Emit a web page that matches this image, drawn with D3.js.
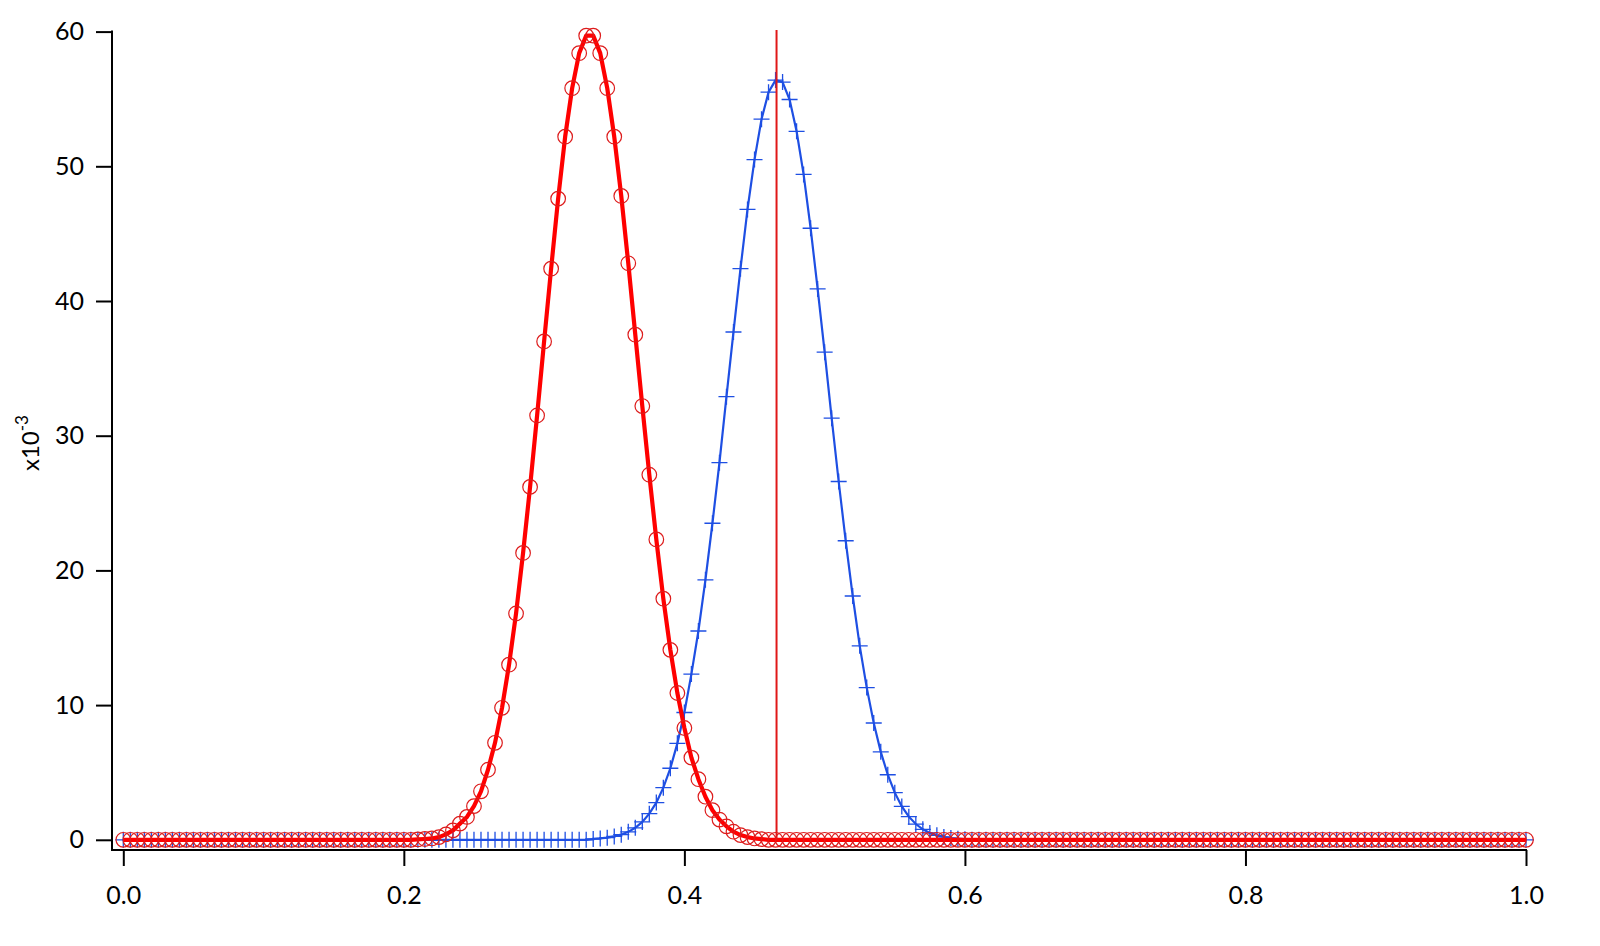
<!DOCTYPE html>
<html>
<head>
<meta charset="utf-8">
<script src="https://cdn.jsdelivr.net/npm/d3@7"></script>
<style>
  html, body { margin: 0; padding: 0; background: #fff; }
  svg { display: block; }
  text { font-family: Lato, "Noto Sans", sans-serif; fill: #000; }
</style>
</head>
<body>
<svg id="chart" width="1600" height="946"></svg>
<script>
// ---- data (values in units of 1e-3) ----
const xValues = [
  0,0.005,0.01,0.015,0.02,0.025,0.03,0.035,0.04,0.045,0.05,0.055,0.06,0.065,0.07,0.075,0.08,0.085,0.09,0.095,
  0.1,0.105,0.11,0.115,0.12,0.125,0.13,0.135,0.14,0.145,0.15,0.155,0.16,0.165,0.17,0.175,0.18,0.185,0.19,0.195,
  0.2,0.205,0.21,0.215,0.22,0.225,0.23,0.235,0.24,0.245,0.25,0.255,0.26,0.265,0.27,0.275,0.28,0.285,0.29,0.295,
  0.3,0.305,0.31,0.315,0.32,0.325,0.33,0.335,0.34,0.345,0.35,0.355,0.36,0.365,0.37,0.375,0.38,0.385,0.39,0.395,
  0.4,0.405,0.41,0.415,0.42,0.425,0.43,0.435,0.44,0.445,0.45,0.455,0.46,0.465,0.47,0.475,0.48,0.485,0.49,0.495,
  0.5,0.505,0.51,0.515,0.52,0.525,0.53,0.535,0.54,0.545,0.55,0.555,0.56,0.565,0.57,0.575,0.58,0.585,0.59,0.595,
  0.6,0.605,0.61,0.615,0.62,0.625,0.63,0.635,0.64,0.645,0.65,0.655,0.66,0.665,0.67,0.675,0.68,0.685,0.69,0.695,
  0.7,0.705,0.71,0.715,0.72,0.725,0.73,0.735,0.74,0.745,0.75,0.755,0.76,0.765,0.77,0.775,0.78,0.785,0.79,0.795,
  0.8,0.805,0.81,0.815,0.82,0.825,0.83,0.835,0.84,0.845,0.85,0.855,0.86,0.865,0.87,0.875,0.88,0.885,0.89,0.895,
  0.9,0.905,0.91,0.915,0.92,0.925,0.93,0.935,0.94,0.945,0.95,0.955,0.96,0.965,0.97,0.975,0.98,0.985,0.99,0.995,
  1
];
const redValues = [
  0,0,0,0,0,0,0,0,0,0,0,0,0,0,0,0,0,0,0,0,
  0,0,0,0,0,0,0,0,0,0,0,0,0,0,0,0,0,0,0,0,
  0,0,0.03,0.06,0.1,0.2,0.4,0.7,1.2,1.7,2.5,3.6,5.2,7.2,9.8,13.0,16.8,21.3,26.2,31.5,
  37.0,42.4,47.6,52.2,55.8,58.4,59.7,59.7,58.4,55.8,52.2,47.8,42.8,37.5,32.2,27.1,22.3,17.9,14.1,10.9,
  8.3,6.1,4.5,3.2,2.2,1.5,1.0,0.6,0.35,0.2,0.1,0.05,0,0,0,0,0,0,0,0,
  0,0,0,0,0,0,0,0,0,0,0,0,0,0,0,0,0,0,0,0,
  0,0,0,0,0,0,0,0,0,0,0,0,0,0,0,0,0,0,0,0,
  0,0,0,0,0,0,0,0,0,0,0,0,0,0,0,0,0,0,0,0,
  0,0,0,0,0,0,0,0,0,0,0,0,0,0,0,0,0,0,0,0,
  0,0,0,0,0,0,0,0,0,0,0,0,0,0,0,0,0,0,0,0,
  0
];
const blueValues = [
  0,0,0,0,0,0,0,0,0,0,0,0,0,0,0,0,0,0,0,0,
  0,0,0,0,0,0,0,0,0,0,0,0,0,0,0,0,0,0,0,0,
  0,0,0,0,0,0,0,0,0,0,0,0,0,0,0,0,0,0,0,0,
  0,0,0,0,0,0,0,0.06,0.1,0.16,0.25,0.38,0.59,0.89,1.33,1.94,2.76,3.87,5.31,7.16,
  9.45,12.3,15.5,19.3,23.5,28.0,32.9,37.7,42.4,46.8,50.5,53.5,55.5,56.4,56.25,54.96,52.6,49.4,45.4,40.9,
  36.2,31.3,26.6,22.2,18.1,14.4,11.3,8.67,6.53,4.83,3.5,2.48,1.72,1.17,0.78,0.51,0.33,0.21,0.13,0.08,
  0.05,0,0,0,0,0,0,0,0,0,0,0,0,0,0,0,0,0,0,0,
  0,0,0,0,0,0,0,0,0,0,0,0,0,0,0,0,0,0,0,0,
  0,0,0,0,0,0,0,0,0,0,0,0,0,0,0,0,0,0,0,0,
  0,0,0,0,0,0,0,0,0,0,0,0,0,0,0,0,0,0,0,0,
  0
];
const markerLineX = [0.4657];
const xTicks = [0, 0.2, 0.4, 0.6, 0.8, 1.0];
const yTicks = [0, 10, 20, 30, 40, 50, 60];
const yUnitLabel = "x10";
const yUnitExp = "-3";

// ---- layout ----
const svg = d3.select("#chart");
const x = d3.scaleLinear().domain([0, 1]).range([123.3, 1526]);
const y = d3.scaleLinear().domain([0, 60]).range([839.8, 31.6]);
const axisX = 112, axisY = 850;

const redPts = xValues.map((v, i) => ({ x: v, y: redValues[i] }));
const bluePts = xValues.map((v, i) => ({ x: v, y: blueValues[i] }));

const blue = "#1e4fe3";
const red = "#ff0000";
const redMarker = "#dd1c1c";

const line = d3.line().x(d => x(d.x)).y(d => y(d.y));

// blue series
svg.append("path").datum(bluePts)
  .attr("d", line).attr("fill", "none")
  .attr("stroke", blue).attr("stroke-width", 2.2);
const plusSize = 8;
svg.append("g").selectAll("path").data(bluePts).join("path")
  .attr("d", d => {
    const cx = x(d.x), cy = y(d.y);
    return `M${cx - plusSize},${cy}H${cx + plusSize}M${cx},${cy - plusSize}V${cy + plusSize}`;
  })
  .attr("stroke", blue).attr("stroke-width", 1.3).attr("fill", "none");

// red series
svg.append("path").datum(redPts)
  .attr("d", line).attr("fill", "none")
  .attr("stroke", red).attr("stroke-width", 4.2).attr("stroke-linejoin", "round");
svg.append("g").selectAll("circle").data(redPts).join("circle")
  .attr("cx", d => x(d.x)).attr("cy", d => y(d.y)).attr("r", 7.3)
  .attr("fill", "none").attr("stroke", redMarker).attr("stroke-width", 1.2);

// vertical marker line
svg.append("g").selectAll("line").data(markerLineX).join("line")
  .attr("x1", d => x(d)).attr("x2", d => x(d))
  .attr("y1", 30).attr("y2", y(0))
  .attr("stroke", "#e01818").attr("stroke-width", 2);

// axes
const fontSize = 25;
const yAxis = d3.axisLeft(y).tickValues(yTicks).tickSize(16).tickPadding(12).tickSizeOuter(0)
  .tickFormat(d3.format("d"));
const gy = svg.append("g").attr("transform", `translate(${axisX},0)`).call(yAxis);
gy.select(".domain").remove();
gy.selectAll(".tick line").attr("stroke", "#000").attr("stroke-width", 2);
gy.selectAll(".tick text").style("font-size", fontSize + "px").style("font-family", "Lato, 'Noto Sans', sans-serif");

const xAxis = d3.axisBottom(x).tickValues(xTicks).tickSize(16).tickPadding(20).tickSizeOuter(0)
  .tickFormat(d3.format(".1f"));
const gx = svg.append("g").attr("transform", `translate(0,${axisY})`).call(xAxis);
gx.select(".domain").remove();
gx.selectAll(".tick line").attr("stroke", "#000").attr("stroke-width", 2);
gx.selectAll(".tick text").style("font-size", fontSize + "px").style("font-family", "Lato, 'Noto Sans', sans-serif");

// axis lines
svg.append("line").attr("x1", axisX).attr("x2", axisX)
  .attr("y1", y(60) - 1).attr("y2", axisY + 1)
  .attr("stroke", "#000").attr("stroke-width", 2);
svg.append("line").attr("x1", axisX - 1).attr("x2", x(1) + 1)
  .attr("y1", axisY).attr("y2", axisY)
  .attr("stroke", "#000").attr("stroke-width", 2);

// y unit label
const unit = svg.append("text")
  .attr("transform", `translate(39, 471) rotate(-90)`)
  .style("font-size", "24px");
unit.append("tspan").text(yUnitLabel);
unit.append("tspan").attr("dy", -11).style("font-size", "17px").text(yUnitExp);
</script>
</body>
</html>
